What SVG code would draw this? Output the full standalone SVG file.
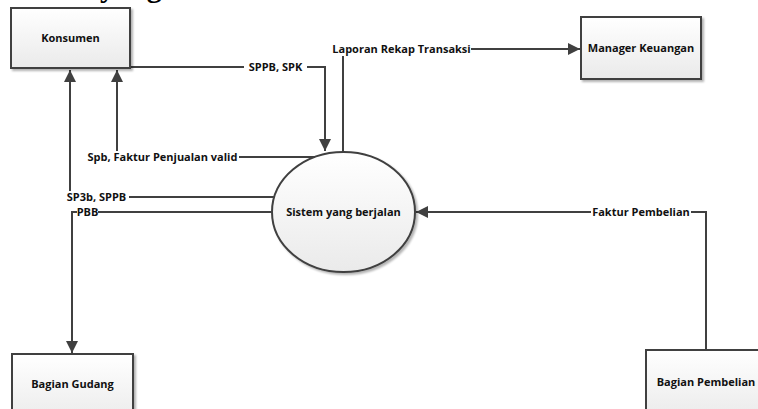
<svg xmlns="http://www.w3.org/2000/svg" width="758" height="409" viewBox="0 0 758 409">
<defs>
<linearGradient id="g" x1="0" y1="0" x2="0" y2="1"><stop offset="0" stop-color="#ffffff"/><stop offset="1" stop-color="#eaeaea"/></linearGradient>
<marker id="ah" markerUnits="userSpaceOnUse" markerWidth="12" markerHeight="12" viewBox="0 0 12 12" refX="12" refY="6" orient="auto"><path d="M0,0 L12,6 L0,12 z" fill="#404040"/></marker>
<filter id="sh" x="-10%" y="-10%" width="130%" height="130%"><feGaussianBlur in="SourceAlpha" stdDeviation="1.2"/><feOffset dx="2" dy="2"/><feComponentTransfer><feFuncA type="linear" slope="0.3"/></feComponentTransfer><feMerge><feMergeNode/><feMergeNode in="SourceGraphic"/></feMerge></filter>
</defs>
<style>
.box{fill:url(#g);stroke:#404040;stroke-width:2;filter:url(#sh)}
.nt{font-family:"Open Sans","DejaVu Sans",sans-serif;font-weight:bold;font-size:11px;fill:#111;text-anchor:middle}
.lt{font-family:"Open Sans","DejaVu Sans",sans-serif;font-weight:bold;font-size:11px;fill:#111;text-anchor:middle}
.ln{fill:none;stroke:#404040;stroke-width:2}
.bg{fill:#ffffff}
</style>
<rect width="758" height="409" fill="#ffffff"/>
<text x="100" y="-3" font-family="Liberation Serif, serif" font-weight="bold" font-size="30" fill="#000">yang</text>
<g id="connectors">
<path class="ln" d="M130,67 H325 V151" marker-end="url(#ah)"/>
<path class="ln" d="M343,152 V49 H580" marker-end="url(#ah)"/>
<path class="ln" d="M315,157 H117 V70" marker-end="url(#ah)"/>
<path class="ln" d="M280,197 H70 V70" marker-end="url(#ah)"/>
<path class="ln" d="M272,212 H72 V353" marker-end="url(#ah)"/>
<path class="ln" d="M706,350 V212 H416" marker-end="url(#ah)"/>
<rect class="bg" x="244" y="61" width="63" height="12"/>
<text class="lt" x="275.5" y="71">SPPB, SPK</text>
<rect class="bg" x="332" y="43" width="139" height="13"/>
<text class="lt" x="401.5" y="53">Laporan Rekap Transaksi</text>
<rect class="bg" x="86" y="151" width="153" height="12"/>
<text class="lt" x="162.5" y="161">Spb, Faktur Penjualan valid</text>
<rect class="bg" x="64" y="191" width="65" height="12"/>
<text class="lt" x="96.5" y="201">SP3b, SPPB</text>
<rect class="bg" x="77" y="206" width="21" height="12"/>
<text class="lt" x="87.5" y="216">PBB</text>
<rect class="bg" x="591" y="206" width="100" height="12"/>
<text class="lt" x="641" y="216">Faktur Pembelian</text>
</g>
<g id="konsumen"><rect class="box" x="11" y="8" width="119" height="60"/><text class="nt" x="70.5" y="42">Konsumen</text></g>
<g id="manager"><rect class="box" x="581" y="17" width="120" height="62"/><text class="nt" x="641" y="52">Manager Keuangan</text></g>
<g id="sistem"><ellipse class="box" cx="343.5" cy="212" rx="71.5" ry="60"/><text class="nt" x="343.5" y="216">Sistem yang berjalan</text></g>
<g id="gudang"><rect class="box" x="12" y="354" width="121" height="70"/><text class="nt" x="72.5" y="388">Bagian Gudang</text></g>
<g id="pembelian"><rect class="box" x="646" y="350" width="120" height="70"/><text class="nt" x="706" y="386">Bagian Pembelian</text></g>
</svg>
